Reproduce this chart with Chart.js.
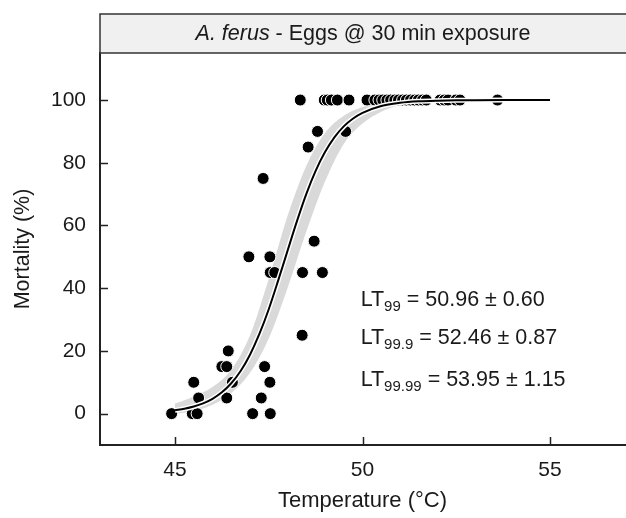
<!DOCTYPE html>
<html>
<head>
<meta charset="utf-8">
<script src="https://cdn.jsdelivr.net/npm/chart.js@4.4.0/dist/chart.umd.min.js"></script>
<style>
  html, body { margin: 0; padding: 0; background: #fff; overflow: hidden; }
  #wrap { width: 632px; height: 518px; }
</style>
</head>
<body>
<div id="wrap"><canvas id="c" width="632" height="518"></canvas></div>
<script>
// observed mortality
var obsTemp = [44.91, 45.46, 45.59, 47.07, 47.54,
               45.63, 46.38, 47.30,
               45.50, 46.53, 47.53,
               46.25, 46.38, 47.39,
               46.42,
               48.39,
               47.54, 47.66, 48.40, 48.93,
               46.97, 47.53,
               48.71,
               47.35,
               48.55,
               48.80, 49.55,
               48.34, 48.98, 49.06, 49.17, 49.33, 49.64, 50.12, 50.33, 50.44, 50.54,
               50.65, 50.75, 50.86, 50.96, 51.07, 51.17, 51.28, 51.39, 51.49, 51.60,
               51.70, 52.07, 52.18, 52.28, 52.49, 52.60, 53.60];
var obsMort = [0, 0, 0, 0, 0,
               5, 5, 5,
               10, 10, 10,
               15, 15, 15,
               20,
               25,
               45, 45, 45, 45,
               50, 50,
               55,
               75,
               85,
               90, 90,
               100, 100, 100, 100, 100, 100, 100, 100, 100, 100,
               100, 100, 100, 100, 100, 100, 100, 100, 100, 100,
               100, 100, 100, 100, 100, 100, 100];

// fitted curve
var fitTemp = [45, 45.25, 45.5, 45.75, 46, 46.25, 46.5, 46.75, 47, 47.25, 47.5, 47.75,
               48, 48.25, 48.5, 48.75, 49, 49.25, 49.5, 49.75, 50, 50.5, 51, 51.5,
               52, 52.5, 53, 54, 55];
var fitMort = [1.05, 1.54, 2.25, 3.27, 4.73, 6.8, 9.68, 13.6, 18.8, 25.4, 33.3, 42.4,
               51.9, 61.3, 70.0, 77.4, 83.4, 88.1, 91.6, 94.1, 95.9, 98.1, 99.1, 99.58,
               99.8, 99.91, 99.96, 99.99, 100];

// confidence band
var bandTemp  = [45, 45.5, 46, 46.5, 47, 47.5, 48, 48.5, 49, 49.5, 50, 50.5, 51, 51.5, 52, 53, 55];
var bandLower = [0, 0.8, 2.8, 6.5, 13, 24, 40, 58, 74, 86, 92.5, 96.3, 98.3, 99.3, 99.7, 99.95, 100];
var bandUpper = [3.2, 5.5, 8.5, 14, 25, 43, 63, 79, 89.5, 95, 97.8, 99.1, 99.7, 99.9, 99.97, 100, 100];

var xTicks = [45, 50, 55];
var yTicks = [0, 20, 40, 60, 80, 100];

var titleItalic = 'A. ferus';
var titleRest = ' - Eggs @ 30 min exposure';
var ltLabels = [
  ['LT', '99', ' = 50.96 \u00b1 0.60'],
  ['LT', '99.9', ' = 52.46 \u00b1 0.87'],
  ['LT', '99.99', ' = 53.95 \u00b1 1.15']
];

function pts(xs, ys) {
  var out = [];
  for (var i = 0; i < xs.length; i++) out.push({x: xs[i], y: ys[i]});
  return out;
}

var FONT = '"Liberation Sans", Arial, sans-serif';
var INK = '#1a1a1a';

var panelPlugin = {
  id: 'panel',
  afterDraw: function(chart) {
    var ctx = chart.ctx;
    var area = chart.chartArea;
    var xs = chart.scales.x, ys = chart.scales.y;
    ctx.save();
    // strip header
    ctx.fillStyle = '#f0f0f0';
    ctx.fillRect(area.left, 14, chart.width - area.left + 2, area.top - 14);
    ctx.strokeStyle = '#333';
    ctx.lineWidth = 1.5;
    ctx.strokeRect(area.left, 14, chart.width - area.left + 2, area.top - 14);
    ctx.fillStyle = INK;
    ctx.textBaseline = 'middle';
    ctx.font = 'italic 21.5px ' + FONT;
    var w1 = ctx.measureText(titleItalic).width;
    ctx.font = '21.5px ' + FONT;
    var w2 = ctx.measureText(titleRest).width;
    var cx = 363;
    var tx = cx - (w1 + w2) / 2;
    var ty = (14 + area.top) / 2 + 1;
    ctx.font = 'italic 21.5px ' + FONT;
    ctx.fillText(titleItalic, tx, ty);
    ctx.font = '21.5px ' + FONT;
    ctx.fillText(titleRest, tx + w1, ty);

    // inward ticks
    ctx.strokeStyle = '#222';
    ctx.lineWidth = 1.5;
    ctx.beginPath();
    xTicks.forEach(function(v) {
      var px = Math.round(xs.getPixelForValue(v)) + 0.5;
      ctx.moveTo(px, area.bottom);
      ctx.lineTo(px, area.bottom - 8);
    });
    yTicks.forEach(function(v) {
      var py = Math.round(ys.getPixelForValue(v)) + 0.5;
      ctx.moveTo(area.left, py);
      ctx.lineTo(area.left + 8, py);
    });
    ctx.stroke();

    // lethal temperature labels
    var lx = xs.getPixelForValue(49.95);
    var rows = [37, 24.9, 11.5];
    ltLabels.forEach(function(lab, i) {
      var y = ys.getPixelForValue(rows[i]);
      var x = lx;
      ctx.textBaseline = 'alphabetic';
      ctx.font = '21.5px ' + FONT;
      ctx.fillText(lab[0], x, y + 8);
      x += ctx.measureText(lab[0]).width;
      ctx.font = '15px ' + FONT;
      ctx.fillText(lab[1], x, y + 13);
      x += ctx.measureText(lab[1]).width;
      ctx.font = '21.5px ' + FONT;
      ctx.fillText(lab[2], x, y + 8);
    });
    ctx.restore();
  }
};

new Chart(document.getElementById('c'), {
  type: 'scatter',
  data: {
    datasets: [
      {
        type: 'line', label: 'lower', data: pts(bandTemp, bandLower),
        borderWidth: 0, borderColor: 'rgba(0,0,0,0)', pointRadius: 0,
        cubicInterpolationMode: 'monotone', fill: false, order: 5
      },
      {
        type: 'line', label: 'upper', data: pts(bandTemp, bandUpper),
        borderWidth: 0, borderColor: 'rgba(0,0,0,0)', pointRadius: 0,
        cubicInterpolationMode: 'monotone', fill: '-1', backgroundColor: '#d9d9d9', order: 4
      },
      {
        label: 'observed', data: pts(obsTemp, obsMort),
        pointRadius: 6, pointBackgroundColor: '#000', pointBorderColor: '#fff',
        pointBorderWidth: 1, order: 3
      },
      {
        type: 'line', label: 'halo', data: pts(fitTemp, fitMort),
        borderColor: '#fff', borderWidth: 5, pointRadius: 0,
        cubicInterpolationMode: 'monotone', fill: false, order: 2
      },
      {
        type: 'line', label: 'fit', data: pts(fitTemp, fitMort),
        borderColor: '#000', borderWidth: 2, pointRadius: 0,
        cubicInterpolationMode: 'monotone', fill: false, order: 1
      }
    ]
  },
  options: {
    responsive: false,
    animation: false,
    layout: { padding: { top: 53, right: 0, left: 0, bottom: 0 } },
    plugins: { legend: { display: false }, tooltip: { enabled: false } },
    scales: {
      x: {
        type: 'linear', min: 43, max: 57,
        afterBuildTicks: function(s) { s.ticks = xTicks.map(function(v) { return {value: v}; }); },
        afterFit: function(s) { s.height = 73; },
        grid: { drawOnChartArea: false, drawTicks: false },
        border: { color: '#222', width: 2 },
        ticks: { padding: 13, color: INK, font: { family: FONT, size: 21 } },
        title: { display: true, text: 'Temperature (\u00b0C)', color: INK, padding: { top: 4 },
                 font: { family: FONT, size: 22 } }
      },
      y: {
        type: 'linear', min: -10, max: 115,
        afterBuildTicks: function(s) { s.ticks = yTicks.map(function(v) { return {value: v}; }); },
        afterFit: function(s) { s.width = 100; },
        grid: { drawOnChartArea: false, drawTicks: false },
        border: { color: '#222', width: 2 },
        ticks: { padding: 14, color: INK, font: { family: FONT, size: 21 } },
        title: { display: true, text: 'Mortality (%)', color: INK, padding: { top: 10, bottom: 6 },
                 font: { family: FONT, size: 21.5 } }
      }
    }
  },
  plugins: [panelPlugin]
});
</script>
</body>
</html>
